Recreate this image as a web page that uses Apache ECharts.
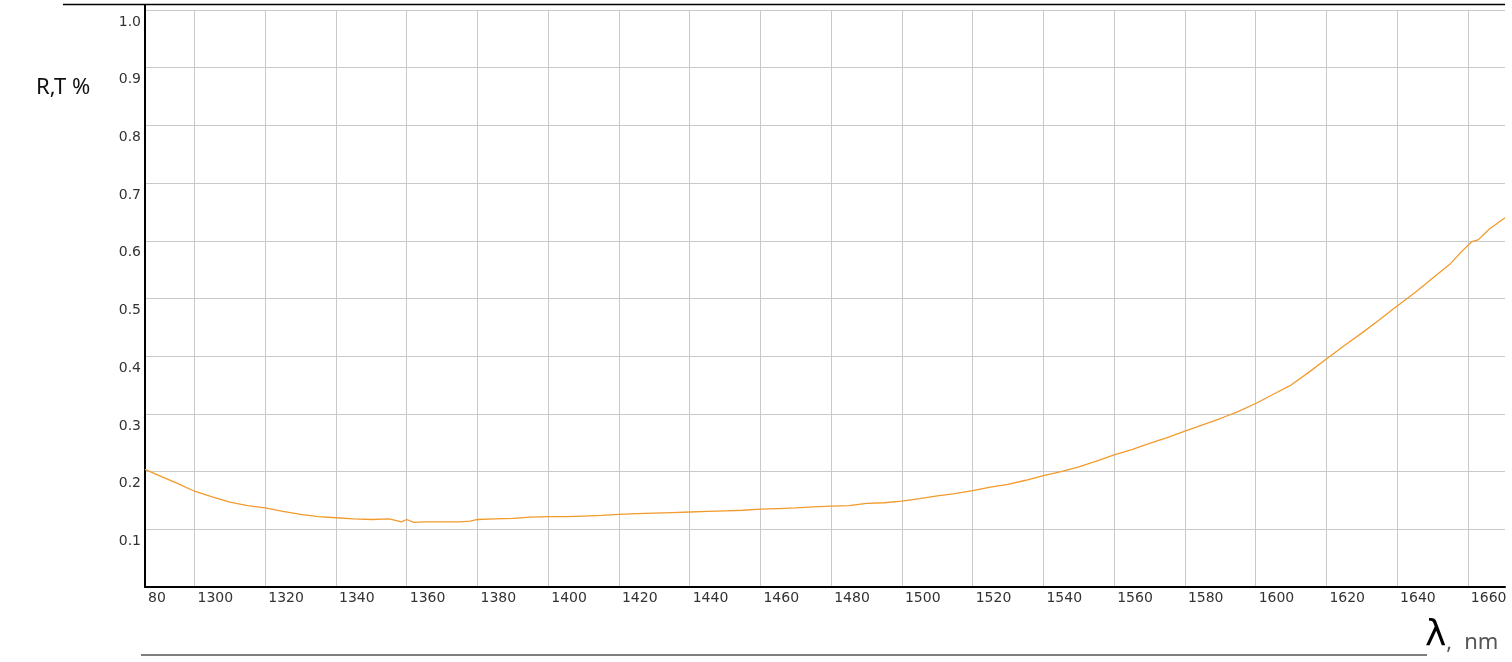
<!DOCTYPE html>
<html>
<head>
<meta charset="utf-8">
<script src="https://cdn.jsdelivr.net/npm/echarts@6/dist/echarts.min.js"></script>
<style>
  html, body { margin: 0; padding: 0; background: #fff; }
  #chart { width: 1512px; height: 662px; }
</style>
</head>
<body>
<div id="chart"></div>
<script>
// wavelength (nm) and R,T readings taken off the curve
const wavelengths = [
  1286, 1290, 1295, 1300, 1305, 1310, 1315, 1320, 1325, 1330, 1335, 1340, 1345, 1350,
  1355, 1356.5, 1358.5, 1360, 1362, 1365, 1370, 1375, 1378, 1380, 1385, 1390, 1395, 1400, 1405,
  1410, 1415, 1420, 1425, 1430, 1435, 1440, 1445, 1450, 1455, 1460, 1465, 1470, 1475,
  1480, 1485, 1490, 1495, 1500, 1505, 1510, 1515, 1520, 1525, 1530, 1535, 1540, 1545,
  1550, 1555, 1560, 1565, 1570, 1575, 1580, 1585, 1590, 1595, 1600, 1605, 1610, 1615,
  1620, 1625, 1630, 1635, 1640, 1645, 1650, 1655, 1658, 1661, 1663, 1666, 1670.5
];
const reflectance = [
  0.204, 0.193, 0.180, 0.166, 0.156, 0.147, 0.141, 0.137, 0.131, 0.126, 0.122, 0.120, 0.118, 0.117,
  0.118, 0.116, 0.113, 0.117, 0.112, 0.113, 0.113, 0.113, 0.114, 0.117, 0.118, 0.119, 0.121, 0.122, 0.122,
  0.123, 0.124, 0.126, 0.127, 0.128, 0.129, 0.130, 0.131, 0.132, 0.133, 0.135, 0.136, 0.137, 0.139,
  0.140, 0.141, 0.145, 0.146, 0.149, 0.153, 0.158, 0.162, 0.167, 0.173, 0.178, 0.185, 0.193, 0.200,
  0.208, 0.218, 0.229, 0.238, 0.249, 0.259, 0.270, 0.281, 0.292, 0.304, 0.318, 0.334, 0.350, 0.372,
  0.395, 0.418, 0.440, 0.463, 0.487, 0.510, 0.535, 0.560, 0.580, 0.598, 0.602, 0.620, 0.640
];
const xMin = 1286;
const xMax = 1670.5;
// first tick sits on the left edge, its label is cut down to "80" like the original
const xTicks = [xMin, 1300, 1320, 1340, 1360, 1380, 1400, 1420, 1440, 1460, 1480, 1500,
  1520, 1540, 1560, 1580, 1600, 1620, 1640, 1660];
const yTicks = [0.1, 0.2, 0.3, 0.4, 0.5, 0.6, 0.7, 0.8, 0.9, 1.0];

const chart = echarts.init(document.getElementById("chart"));
const gridLine = { lineStyle: { color: "#c9c9c9", width: 1 } };
const labelFont = { fontFamily: "DejaVu Sans", fontSize: 14, color: "#333" };

chart.setOption({
  animation: false,
  grid: { left: 145, right: 7, top: 10, bottom: 75 },
  xAxis: {
    type: "value",
    min: xMin,
    max: xMax,
    axisLine: { lineStyle: { color: "#000", width: 2 } },
    axisTick: { show: false, customValues: xTicks },
    splitLine: gridLine,
    axisLabel: {
      ...labelFont,
      customValues: xTicks,
      align: "left",
      margin: 4,
      padding: [0, 0, 0, 3],
      formatter: (v) => (v < 1300 ? "80" : String(v)),
    },
  },
  yAxis: {
    type: "value",
    min: 0,
    max: 1,
    axisLine: { show: true, lineStyle: { color: "#000", width: 2 } },
    axisTick: { show: false, customValues: yTicks },
    splitLine: gridLine,
    axisLabel: {
      ...labelFont,
      customValues: yTicks,
      verticalAlign: "top",
      padding: [5, 0, 0, 0],
      margin: 4,
      formatter: (v) => v.toFixed(1),
    },
  },
  series: [{
    type: "line",
    data: wavelengths.map((w, i) => [w, reflectance[i]]),
    showSymbol: false,
    lineStyle: { color: "#f29a2c", width: 1.3 },
  }],
  graphic: [
    { type: "line", shape: { x1: 63, y1: 4.5, x2: 1505, y2: 4.5 }, style: { stroke: "#000", lineWidth: 1.5 } },
    { type: "line", shape: { x1: 145, y1: 4, x2: 145, y2: 10 }, style: { stroke: "#000", lineWidth: 2 } },
    { type: "line", shape: { x1: 141, y1: 655, x2: 1427, y2: 655 }, style: { stroke: "#555", lineWidth: 1.5 } },
    {
      type: "text", left: 36, top: 77,
      style: { text: "R,T %", font: "22px 'Noto Sans'", fill: "#111" },
    },
    {
      type: "text", left: 1425, top: 618,
      style: {
        text: "{l|λ}{c|,}{n|nm}",
        rich: {
          l: { fontFamily: "DejaVu Sans", fontSize: 36, fill: "#000", verticalAlign: "bottom" },
          c: { fontFamily: "Noto Sans", fontSize: 22, fill: "#555", verticalAlign: "bottom" },
          n: { fontFamily: "Noto Sans", fontSize: 22, fill: "#555", verticalAlign: "bottom", padding: [0, 0, 0, 12] },
        },
      },
    },
  ],
});
</script>
</body>
</html>
